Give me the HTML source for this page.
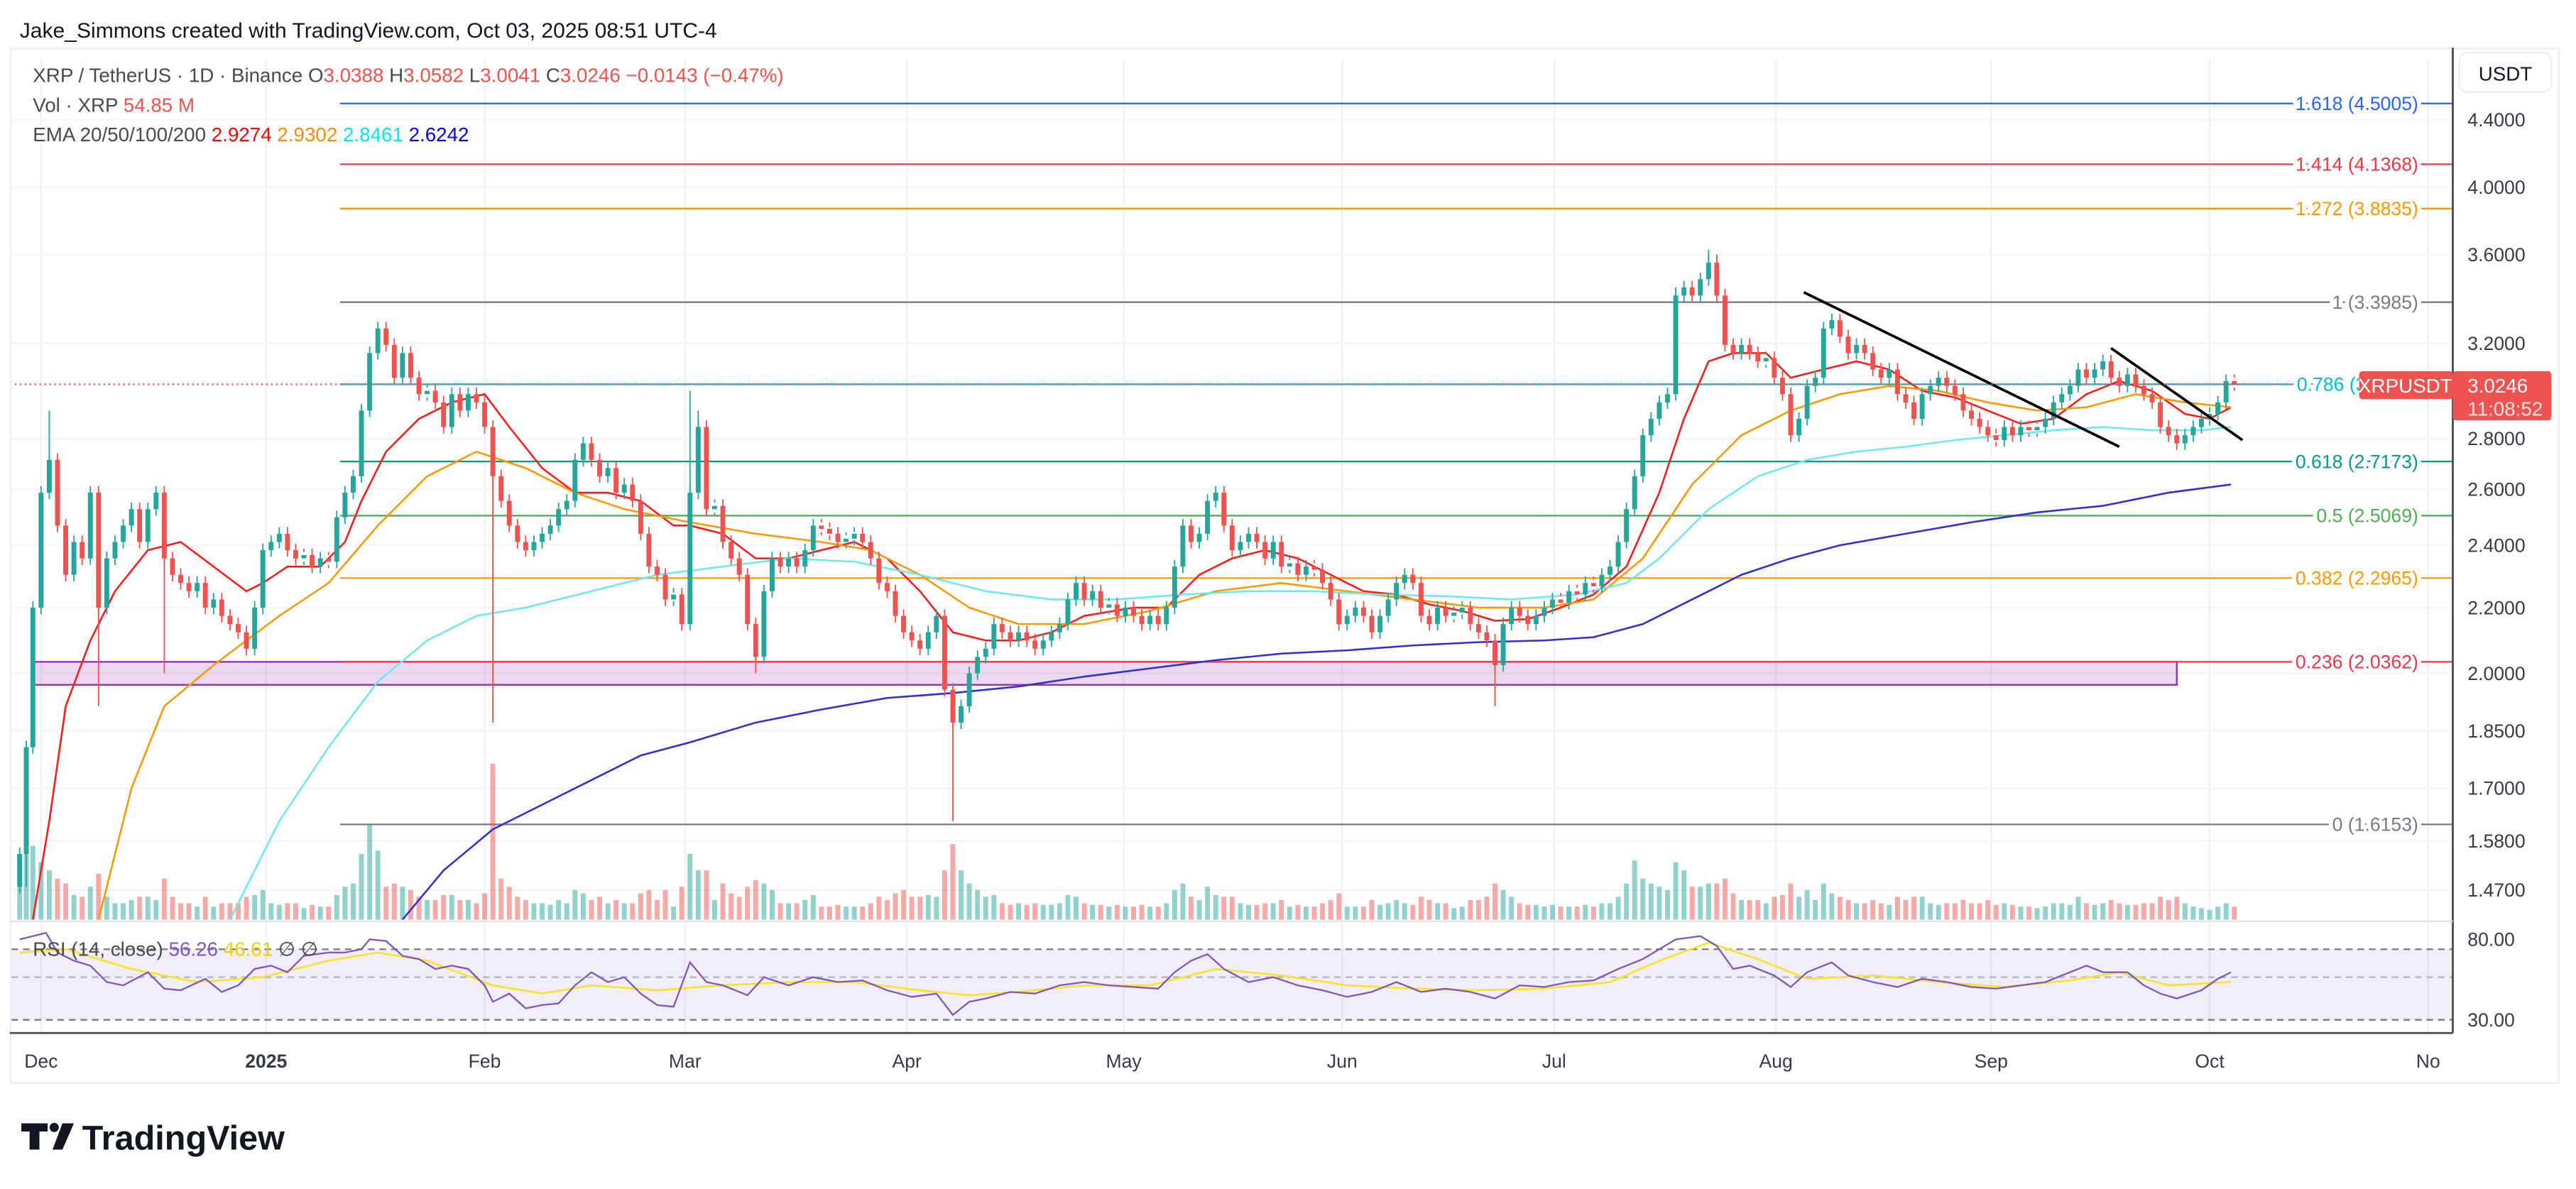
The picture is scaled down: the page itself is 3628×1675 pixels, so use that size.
<!DOCTYPE html>
<html><head><meta charset="utf-8"><style>
html,body{margin:0;padding:0;background:#fff;}
svg{display:block;font-family:"Liberation Sans","DejaVu Sans",sans-serif;}
</style></head><body>
<svg width="3628" height="1675" viewBox="0 0 1568 724" preserveAspectRatio="none" xmlns="http://www.w3.org/2000/svg" xmlns:xlink="http://www.w3.org/1999/xlink">
<defs>
<clipPath id="cm"><rect x="7" y="36" width="1486" height="524"/></clipPath>
<clipPath id="cr"><rect x="7" y="562" width="1486" height="67"/></clipPath>
</defs>
<rect width="1568" height="724" fill="#fff"/>
<text x="12" y="23" font-size="13" fill="#131722">Jake_Simmons created with TradingView.com, Oct 03, 2025 08:51 UTC-4</text>
<rect x="6.5" y="29.5" width="1551" height="630" fill="none" stroke="#eceef2"/>
<!-- grid -->
<g stroke="#eef1f6" stroke-width="1">
<path d="M25 36V629M162 36V629M295 36V629M417 36V629M552 36V629M684 36V629M817 36V629M946 36V629M1081 36V629M1212 36V629M1345 36V629M1478 36V629"/>
<path d="M6 73H1493M6 114H1493M6 155H1493M6 209H1493M6 267H1493M6 298H1493M6 332H1493M6 370H1493M6 410H1493M6 445H1493M6 480H1493M6 512H1493M6 542H1493" stroke="#f3f5f9"/>
</g>
<g clip-path="url(#cm)">
<rect x="20" y="403" width="1305" height="14" fill="#9c27b0" fill-opacity="0.18" stroke="#9c27b0" stroke-width="1"/>
<g stroke-width="1">
<line x1="207" y1="63" x2="1493" y2="63" stroke="#2962ff"/>
<line x1="207" y1="100" x2="1493" y2="100" stroke="#f23645"/>
<line x1="207" y1="127" x2="1493" y2="127" stroke="#ff9800"/>
<line x1="207" y1="184" x2="1493" y2="184" stroke="#787b86"/>
<line x1="207" y1="234" x2="1493" y2="234" stroke="#00bcd4"/>
<line x1="207" y1="281" x2="1493" y2="281" stroke="#089981"/>
<line x1="207" y1="314" x2="1493" y2="314" stroke="#4caf50"/>
<line x1="207" y1="352" x2="1493" y2="352" stroke="#ff9800"/>
<line x1="207" y1="403" x2="1493" y2="403" stroke="#f23645"/>
<line x1="207" y1="502" x2="1493" y2="502" stroke="#787b86"/>
</g>
<!-- volume -->
<path stroke="#26a69a" stroke-opacity="0.5" stroke-width="3" fill="none" d="M12 560V520M16 560V500M20 560V515M25 560V525M30 560V530M45 560V545M55 560V540M65 560V546M70 560V550M75 560V550M80 560V548M90 560V546M95 560V548M120 560V552M130 560V552M155 560V545M160 560V542M165 560V550M170 560V551M185 560V553M195 560V552M205 560V545M210 560V540M215 560V538M220 560V520M225 560V502M230 560V518M245 560V540M260 560V548M275 560V545M285 560V548M325 560V550M330 560V550M335 560V551M340 560V548M345 560V550M350 560V542M355 560V544M370 560V550M380 560V550M410 560V552M420 560V520M425 560V530M435 560V548M465 560V538M470 560V542M480 560V550M490 560V548M495 560V545M515 560V552M520 560V552M565 560V545M570 560V546M585 560V530M590 560V538M595 560V542M600 560V546M605 560V545M620 560V550M635 560V551M640 560V551M645 560V550M650 560V545M655 560V546M665 560V551M675 560V552M685 560V552M700 560V552M710 560V550M715 560V542M720 560V538M730 560V548M735 560V540M740 560V545M755 560V550M760 560V551M775 560V550M785 560V552M795 560V552M820 560V552M825 560V552M840 560V551M845 560V550M850 560V548M855 560V550M875 560V550M885 560V553M890 560V552M915 560V542M920 560V546M935 560V551M940 560V552M945 560V551M955 560V552M965 560V551M975 560V550M980 560V550M985 560V546M990 560V538M995 560V524M1000 560V535M1005 560V538M1010 560V540M1015 560V542M1020 560V525M1025 560V530M1035 560V540M1040 560V538M1060 560V548M1075 560V550M1095 560V546M1100 560V542M1105 560V548M1110 560V538M1115 560V544M1130 560V550M1150 560V551M1170 560V546M1175 560V550M1180 560V551M1220 560V550M1230 560V552M1240 560V553M1245 560V552M1250 560V550M1255 560V550M1260 560V551M1265 560V546M1275 560V551M1280 560V550M1295 560V551M1330 560V550M1335 560V552M1340 560V553M1345 560V554M1350 560V552M1355 560V550"/>
<path stroke="#ef5350" stroke-opacity="0.5" stroke-width="3" fill="none" d="M35 560V535M40 560V538M50 560V546M60 560V532M85 560V546M100 560V535M105 560V546M110 560V550M115 560V550M125 560V546M135 560V550M140 560V550M145 560V550M150 560V546M175 560V550M180 560V550M190 560V551M200 560V552M235 560V540M240 560V538M250 560V542M255 560V546M265 560V548M270 560V545M280 560V548M290 560V550M295 560V544M300 560V465M305 560V535M310 560V540M315 560V546M320 560V548M360 560V548M365 560V546M375 560V548M385 560V550M390 560V544M395 560V542M400 560V548M405 560V542M415 560V540M430 560V530M440 560V538M445 560V544M450 560V546M455 560V540M460 560V536M475 560V550M485 560V550M500 560V552M505 560V552M510 560V551M525 560V552M530 560V550M535 560V546M540 560V548M545 560V544M550 560V542M555 560V546M560 560V546M575 560V530M580 560V514M610 560V550M615 560V551M625 560V551M630 560V550M660 560V550M670 560V551M680 560V551M690 560V552M695 560V551M705 560V552M725 560V546M745 560V546M750 560V546M765 560V551M770 560V550M780 560V548M790 560V551M800 560V552M805 560V550M810 560V548M815 560V544M830 560V552M835 560V548M860 560V551M865 560V546M870 560V548M880 560V550M895 560V548M900 560V548M905 560V546M910 560V538M925 560V550M930 560V551M950 560V552M960 560V552M970 560V552M1030 560V540M1045 560V538M1050 560V535M1055 560V544M1065 560V548M1070 560V548M1080 560V546M1085 560V545M1090 560V538M1120 560V546M1125 560V548M1135 560V550M1140 560V548M1145 560V550M1155 560V546M1160 560V548M1165 560V546M1185 560V550M1190 560V550M1195 560V548M1200 560V550M1205 560V550M1210 560V548M1215 560V551M1225 560V551M1235 560V552M1270 560V550M1285 560V548M1290 560V550M1300 560V551M1305 560V550M1310 560V550M1315 560V546M1320 560V548M1325 560V546M1360 560V552"/>
<!-- EMAs -->
<g fill="none" stroke-width="1.1">
<polyline stroke="#ff1a1a" points="20,560 30,500 40,430 55,390 70,360 90,335 110,330 130,345 150,360 160,355 175,345 195,345 210,330 220,305 235,275 255,255 275,245 295,240 310,260 330,285 350,300 370,300 390,305 410,320 420,320 440,325 460,340 480,340 500,335 520,330 540,340 560,360 580,385 600,390 620,390 640,385 660,375 690,370 710,370 730,350 750,340 770,335 790,340 810,350 830,360 850,362 870,368 890,372 910,378 930,377 950,370 970,362 990,345 1010,300 1025,255 1040,220 1055,215 1075,215 1090,230 1110,225 1130,220 1150,225 1170,238 1190,242 1210,250 1230,258 1250,255 1270,240 1290,232 1310,238 1330,252 1345,255 1358,248"/>
<polyline stroke="#ff9800" points="60,560 80,480 100,430 130,405 150,390 170,375 200,355 230,320 260,290 290,275 320,285 350,300 380,310 420,318 460,325 500,330 530,335 560,350 590,370 620,380 660,380 700,372 740,360 780,355 820,360 860,365 900,370 940,370 970,365 1000,340 1030,295 1060,265 1090,250 1120,240 1150,235 1180,238 1210,245 1240,250 1270,248 1300,240 1330,245 1358,248"/>
<polyline stroke="#6ee8f0" points="140,560 170,500 200,455 230,415 260,390 290,375 320,370 360,360 400,350 440,345 480,340 520,342 560,350 600,360 640,365 680,365 720,362 760,360 800,360 840,362 880,363 920,365 960,362 990,355 1010,340 1040,310 1070,290 1100,280 1130,275 1160,272 1190,268 1220,265 1250,262 1280,260 1310,262 1340,262 1358,260"/>
<polyline stroke="#2f2fd6" points="245,560 270,530 300,505 330,490 360,475 390,460 420,452 460,440 500,432 540,425 580,422 620,418 660,412 700,407 740,402 780,398 820,396 860,393 900,391 940,390 970,388 1000,380 1030,365 1060,350 1090,340 1120,332 1160,325 1200,318 1240,312 1280,308 1320,300 1358,295"/>
</g>
<!-- candles -->
<defs>
<path id="gb" d="M12 540V520M16 520V455M20 455V370M25 370V300M30 300V280M45 350V330M55 340V300M65 370V340M70 340V330M75 330V320M80 320V310M90 330V310M95 310V300M120 360V355M130 370V365M155 395V370M160 370V335M165 335V330M170 330V325M185 340V338M195 345V340M205 342V315M210 315V300M215 300V290M220 290V250M225 250V215M230 215V200M245 230V215M260 240V238M275 260V240M285 250V240M325 335V330M330 330V325M335 325V320M340 320V310M345 310V305M350 305V280M355 280V270M370 290V285M380 300V295M410 365V362M420 380V300M425 300V260M435 310V308M465 400V360M470 360V340M480 345V340M490 345V335M495 335V320M515 330V328M520 328V325M565 395V385M570 385V375M585 440V430M590 430V410M595 410V400M600 400V395M605 395V380M620 390V385M635 395V390M640 390V385M645 385V380M650 380V365M655 365V355M665 365V360M675 370V368M685 375V370M700 380V375M710 380V370M715 370V345M720 345V320M730 330V325M735 325V305M740 305V300M755 335V330M760 330V325M775 340V330M785 345V343M795 350V345M820 380V375M825 375V370M840 385V375M845 375V365M850 365V355M855 355V350M875 380V370M885 375V373M890 373V370M915 405V380M920 380V370M935 380V375M940 375V370M945 370V365M955 367V360M965 362V355M975 357V350M980 350V345M985 345V330M990 330V310M995 310V290M1000 290V265M1005 265V255M1010 255V245M1015 245V240M1020 240V180M1025 180V175M1035 180V170M1040 170V160M1060 215V210M1075 220V218M1095 265V255M1100 255V235M1105 235V230M1110 230V200M1115 200V195M1130 215V210M1150 230V225M1170 255V240M1175 240V235M1180 235V230M1220 268V260M1230 265V260M1240 262V260M1245 260V255M1250 255V245M1255 245V240M1260 240V235M1265 235V225M1275 230V225M1280 225V220M1295 235V228M1330 270V265M1335 265V260M1340 260V255M1345 255V252M1350 252V245M1355 245V232"/>
<path id="rb" d="M35 280V320M40 320V350M50 330V340M60 300V370M85 310V330M100 300V340M105 340V350M110 350V355M115 355V360M125 355V370M135 365V375M140 375V380M145 380V385M150 385V395M175 325V335M180 335V340M190 338V345M200 340V342M235 200V210M240 210V230M250 215V230M255 230V240M265 238V245M270 245V260M280 240V250M290 240V245M295 245V260M300 260V290M305 290V305M310 305V320M315 320V330M320 330V335M360 270V280M365 280V290M375 285V300M385 295V305M390 305V325M395 325V345M400 345V350M405 350V365M415 362V380M430 260V310M440 308V330M445 330V340M450 340V350M455 350V380M460 380V400M475 340V345M485 340V345M500 320V322M505 322V325M510 325V330M525 325V330M530 330V340M535 340V355M540 355V360M545 360V375M550 375V385M555 385V390M560 390V395M575 375V420M580 420V440M610 380V385M615 385V390M625 385V390M630 390V395M660 355V365M670 360V370M680 368V375M690 370V375M695 375V380M705 375V380M725 320V330M745 300V320M750 320V335M765 325V330M770 330V340M780 330V345M790 343V350M800 345V347M805 347V355M810 355V365M815 365V380M830 370V375M835 375V385M860 350V355M865 355V375M870 375V380M880 370V375M895 370V380M900 380V385M905 385V390M910 390V405M925 370V375M930 375V380M950 365V367M960 360V362M970 355V357M1030 175V180M1045 160V180M1050 180V210M1055 210V215M1065 210V215M1070 215V220M1080 218V230M1085 230V240M1090 240V265M1120 195V205M1125 205V215M1135 210V215M1140 215V225M1145 225V230M1155 225V240M1160 240V245M1165 245V255M1185 230V235M1190 235V240M1195 240V250M1200 250V255M1205 255V260M1210 260V265M1215 265V268M1225 260V265M1235 260V262M1270 225V230M1285 220V230M1290 230V235M1300 228V235M1305 235V240M1310 240V245M1315 245V260M1320 260V265M1325 265V270M1360 232V234"/>
</defs>
<g fill="none" stroke="#26a69a">
<use xlink:href="#gb" href="#gb" stroke-width="0.8" transform="translate(0,-4)"/>
<use xlink:href="#gb" href="#gb" stroke-width="0.8" transform="translate(0,4)"/>
<use xlink:href="#gb" href="#gb" stroke-width="3"/>
<path stroke-width="0.8" d="M30 250V300M16 455V540M420 238V300M1040 152V170M425 250V300M1020 175V240"/>
</g>
<g fill="none" stroke="#ef5350">
<use xlink:href="#rb" href="#rb" stroke-width="0.8" transform="translate(0,-4)"/>
<use xlink:href="#rb" href="#rb" stroke-width="0.8" transform="translate(0,4)"/>
<use xlink:href="#rb" href="#rb" stroke-width="3"/>
<path stroke-width="0.8" d="M580 420V500M300 260V440M60 300V430M100 300V410M910 390V430M460 380V410M1045 155V180"/>
</g>
<line x1="1098" y1="178" x2="1290" y2="272" stroke="#000" stroke-width="1.6"/>
<line x1="1285" y1="212" x2="1365" y2="268" stroke="#000" stroke-width="1.6"/>
<line x1="6" y1="234" x2="1436" y2="234" stroke="#ef5350" stroke-width="1" stroke-dasharray="1,2"/>
<g font-size="11.5" text-anchor="end" stroke="#fff" stroke-width="5" paint-order="stroke">
<text x="1472" y="67" fill="#2962ff">1.618 (4.5005)</text>
<text x="1472" y="104" fill="#f23645">1.414 (4.1368)</text>
<text x="1472" y="131" fill="#ff9800">1.272 (3.8835)</text>
<text x="1472" y="188" fill="#787b86">1 (3.3985)</text>
<text x="1472" y="238" fill="#00bcd4">0.786 (3.0113)</text>
<text x="1472" y="285" fill="#089981">0.618 (2.7173)</text>
<text x="1472" y="318" fill="#4caf50">0.5 (2.5069)</text>
<text x="1472" y="356" fill="#ff9800">0.382 (2.2965)</text>
<text x="1472" y="407" fill="#f23645">0.236 (2.0362)</text>
<text x="1472" y="506" fill="#787b86">0 (1.6153)</text>
</g>
</g>
<!-- RSI -->
<g clip-path="url(#cr)">
<rect x="7" y="578" width="1486" height="43" fill="#7e57c2" fill-opacity="0.1"/>
<path d="M7 578H1493M7 621H1493" stroke="#787b86" stroke-dasharray="4,3"/>
<path d="M7 595H1493" stroke="#b2b5be" stroke-dasharray="4,3"/>
<polyline fill="none" stroke="#f5e431" stroke-width="1.2" points="12,580 40,578 80,590 120,598 160,595 200,585 230,580 260,585 300,600 330,605 360,600 400,603 440,600 480,598 520,598 560,603 590,606 620,604 660,600 700,600 740,590 780,594 820,600 860,602 900,603 940,602 980,598 1010,585 1040,574 1070,584 1100,596 1140,594 1180,598 1220,601 1260,597 1290,592 1320,600 1358,598"/>
<polyline fill="none" stroke="#7e57c2" stroke-width="1" points="12,572 20,570 28,568 35,580 45,585 55,588 65,598 75,600 90,592 100,602 110,603 125,596 135,604 145,600 155,590 165,588 175,592 185,582 200,580 210,580 220,578 225,572 235,573 245,582 255,584 265,590 275,588 285,590 295,600 300,610 310,605 320,614 330,612 340,611 350,600 360,592 370,598 380,595 390,605 400,612 410,613 420,586 430,598 440,600 455,606 465,595 480,600 495,595 510,598 525,597 540,603 555,607 570,605 580,618 590,610 600,608 615,604 630,605 645,600 660,598 675,600 690,601 705,602 715,592 725,585 735,581 745,590 760,598 775,595 790,600 805,603 820,607 835,604 850,598 865,604 880,602 895,604 910,608 925,600 940,601 955,598 970,597 985,590 1000,584 1010,578 1020,572 1035,570 1045,576 1055,590 1065,588 1080,594 1090,601 1100,592 1115,586 1125,594 1140,598 1155,601 1170,596 1185,598 1200,601 1215,602 1230,600 1245,598 1260,592 1270,588 1280,592 1295,592 1305,600 1315,605 1325,608 1340,603 1350,596 1358,592"/>
</g>
<!-- axes -->
<line x1="1493" y1="29" x2="1493" y2="629" stroke="#4a4a4a" stroke-width="1.2"/>
<line x1="6" y1="629" x2="1493" y2="629" stroke="#4a4a4a" stroke-width="1.2"/>
<line x1="6" y1="561" x2="1493" y2="561" stroke="#e0e3eb" stroke-width="1"/>
<rect x="1497" y="32" width="56" height="24" rx="5" fill="#fff" stroke="#eceef2"/>
<text x="1525" y="49" font-size="12" fill="#131722" text-anchor="middle">USDT</text>
<g font-size="11.5" fill="#131722" fill-opacity="0.85">
<text x="1502" y="77">4.4000</text>
<text x="1502" y="118">4.0000</text>
<text x="1502" y="159">3.6000</text>
<text x="1502" y="213">3.2000</text>
<text x="1502" y="271">2.8000</text>
<text x="1502" y="302">2.6000</text>
<text x="1502" y="336">2.4000</text>
<text x="1502" y="374">2.2000</text>
<text x="1502" y="414">2.0000</text>
<text x="1502" y="449">1.8500</text>
<text x="1502" y="484">1.7000</text>
<text x="1502" y="516">1.5800</text>
<text x="1502" y="546">1.4700</text>
<text x="1502" y="576">80.00</text>
<text x="1502" y="625">30.00</text>
</g>
<g font-size="11.5" fill="#131722" fill-opacity="0.85" text-anchor="middle">
<text x="25" y="650">Dec</text>
<text x="162" y="650" font-weight="bold">2025</text>
<text x="295" y="650">Feb</text>
<text x="417" y="650">Mar</text>
<text x="552" y="650">Apr</text>
<text x="684" y="650">May</text>
<text x="817" y="650">Jun</text>
<text x="946" y="650">Jul</text>
<text x="1081" y="650">Aug</text>
<text x="1212" y="650">Sep</text>
<text x="1345" y="650">Oct</text>
<text x="1478" y="650">No</text>
</g>
<rect x="1494" y="630" width="60" height="28" fill="#fff"/>
<g font-size="12" fill="#4a4a4a">
<text x="20" y="50">XRP / TetherUS · 1D · Binance <tspan>O</tspan><tspan fill="#ef5350">3.0388</tspan> H<tspan fill="#ef5350">3.0582</tspan> L<tspan fill="#ef5350">3.0041</tspan> C<tspan fill="#ef5350">3.0246</tspan> <tspan fill="#ef5350">−0.0143 (−0.47%)</tspan></text>
<text x="20" y="68">Vol · XRP <tspan fill="#ef5350">54.85 M</tspan></text>
<text x="20" y="86">EMA 20/50/100/200 <tspan fill="#ff0000">2.9274</tspan> <tspan fill="#ff8c00">2.9302</tspan> <tspan fill="#00e5ee">2.8461</tspan> <tspan fill="#0000ee">2.6242</tspan></text>
<text x="20" y="582">RSI (14, close) <tspan fill="#7e57c2">56.26</tspan> <tspan fill="#e8d300">46.61</tspan> ∅ ∅</text>
</g>
<rect x="1436" y="226" width="57" height="17" rx="2" fill="#ef5350"/>
<text x="1464" y="239" font-size="12" fill="#fff" text-anchor="middle">XRPUSDT</text>
<rect x="1493" y="226" width="60" height="30" rx="2" fill="#ef5350"/>
<text x="1502" y="239" font-size="12" fill="#fff">3.0246</text>
<text x="1502" y="253" font-size="12" fill="#fde0e0">11:08:52</text>
<g fill="#131722">
<path d="M13 684h16v5h-5v11h-6v-11h-5z"/>
<circle cx="33" cy="686.5" r="2.8"/>
<path d="M38 684h7l-7 16h-6z"/>
</g>
<text x="50" y="700" font-size="21" font-weight="bold" fill="#131722">TradingView</text>
</svg>
</body></html>
